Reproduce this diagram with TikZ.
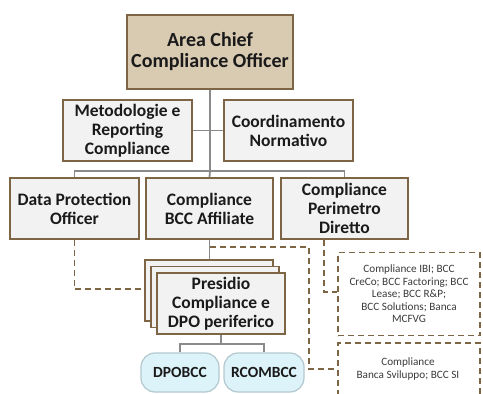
\documentclass[tikz,border=0pt]{standalone}
\usepackage{fontspec}
\setmainfont{Carlito}
\definecolor{brd}{HTML}{7D6546}
\definecolor{tan}{HTML}{D9CAB2}
\definecolor{boxf}{HTML}{F2F2F2}
\definecolor{lnk}{HTML}{8A8A8A}
\definecolor{pill}{HTML}{DDF3FA}
\definecolor{pillb}{HTML}{B3C7CE}
\definecolor{txt}{HTML}{1A1A1A}
\definecolor{stxt}{HTML}{3A3A3A}
\tikzset{
  orgbox/.style={draw=brd, line width=1.8pt, fill=boxf, inner sep=0pt, align=center, font=\fontsize{17.5}{19}\selectfont\bfseries, text=txt},
  topbox/.style={orgbox, fill=tan, font=\fontsize{20}{21}\selectfont\bfseries},
  pillbox/.style={draw=pillb, line width=1.2pt, fill=pill, rounded corners=14pt, inner sep=0pt, font=\fontsize{15.5}{18}\selectfont\bfseries, text=txt},
  link/.style={draw=lnk, line width=1.8pt},
  dlink/.style={draw=brd, line width=1.6pt, dash pattern=on 6pt off 4pt},
  dbox/.style={draw=brd, line width=1.6pt, dash pattern=on 6pt off 4pt, inner sep=0pt, align=center, font=\fontsize{11.2}{12.5}\selectfont, text=stxt}
}
\begin{document}
\begin{tikzpicture}[x=1pt,y=-1pt]
\useasboundingbox (0,0) rectangle (483,394);
% top
\node[topbox, minimum width=166pt, minimum height=74pt] (top) at (210,52) {Area Chief\\Compliance Officer};
% row 2
\node[orgbox, minimum width=129pt, minimum height=61pt] (met) at (127.5,130.5) {Metodologie e\\Reporting\\Compliance};
\node[orgbox, minimum width=129pt, minimum height=61pt] (coo) at (288.5,130.5) {Coordinamento\\Normativo};
% row 3
\node[orgbox, minimum width=129pt, minimum height=61pt] (dpo) at (74.5,208.5) {Data Protection\\Officer};
\node[orgbox, minimum width=127pt, minimum height=61pt] (aff) at (209.5,208.5) {Compliance\\BCC Affiliate};
\node[orgbox, minimum width=127pt, minimum height=61pt] (per) at (344.5,208.5) {Compliance\\Perimetro\\Diretto};
% stack
\node[orgbox, minimum width=128pt, minimum height=61pt] (pr3) at (209,290.5) {};
\node[orgbox, minimum width=128pt, minimum height=61pt] (pr2) at (215,297) {};
\node[orgbox, minimum width=128pt, minimum height=61pt] (pr1) at (221,303.5) {Presidio\\Compliance e\\DPO periferico};
% pills
\node[pillbox, minimum width=78pt, minimum height=39pt] (dpb) at (180,372.5) {DPOBCC};
\node[pillbox, minimum width=80pt, minimum height=39pt] (rcb) at (264,372.5) {RCOMBCC};
% dashed boxes
\node[dbox, minimum width=142pt, minimum height=83pt] (db1) at (409,294) {Compliance IBI; BCC\\CreCo; BCC Factoring; BCC\\Lease; BCC R\&P;\\BCC Solutions; Banca\\MCFVG};
\coordinate (b2tl) at (338,343);
\coordinate (b2tr) at (480,343);
\coordinate (b2bl) at (338,396);
\coordinate (b2br) at (480,396);
\node[align=center, font=\fontsize{11.2}{12.5}\selectfont, text=stxt] (db2t) at (408,369) {Compliance\\Banca Sviluppo; BCC SI};
\draw[dlink] (b2bl) -- (b2tl) -- (b2tr) -- (b2br);
% coordinates
\coordinate (bus) at (210,171);
\coordinate (j2) at (210,247);
\coordinate (d1) at (309,247);
\coordinate (d2) at (309,369);
\coordinate (e1) at (74.5,289);
\coordinate (p1) at (324,292);
\coordinate (q1) at (221,344);
% links
\draw[link] (top.south) -- (bus);
\draw[link] (met.east) -- (coo.west);
\draw[link] (dpo.north) |- (bus) -| (per.north);
\draw[link] (bus) -- (aff.north);
\draw[link] (aff.south) -- (pr3.north -| aff.south);
\draw[link] (pr1.south) -- (q1);
\draw[link] (dpb.north) |- (q1) -| (rcb.north);
% dashed links
\draw[dlink] (dpo.south) -- (e1) -- (e1 -| pr3.west);
\draw[dlink] (j2) -- (d1) -- (d2) -- (d2 -| b2tl);
\draw[dlink] (per.south -| p1) -- (p1) -- (p1 -| db1.west);
\end{tikzpicture}
\end{document}
